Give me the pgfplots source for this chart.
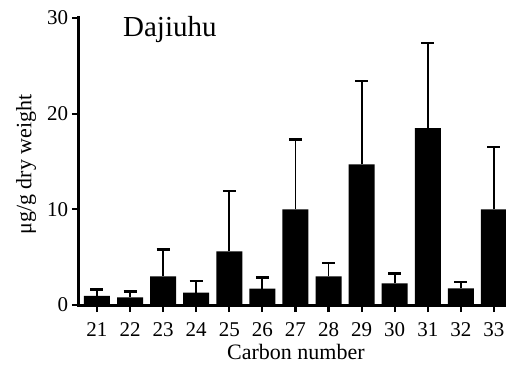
\documentclass[border=0pt]{standalone}
\usepackage{fontspec}
\setmainfont{Liberation Serif}
\usepackage{pgfplots}
\usepackage{pgfplotstable}
\pgfplotsset{compat=1.18}
\pgfplotstableread{
x y err
21 0.95 0.65
22 0.80 0.60
23 3.00 2.80
24 1.30 1.20
25 5.60 6.30
26 1.70 1.20
27 10.0 7.30
28 3.00 1.40
29 14.7 8.70
30 2.25 1.05
31 18.5 8.90
32 1.75 0.65
33 10.0 6.50
}\datatable
\begin{document}
\begin{tikzpicture}
\begin{axis}[
  name=ax,
  at={(0,0)}, anchor=south west,
  scale only axis,
  width=427pt, height=287pt,
  xmin=20.456, xmax=33.365,
  ymin=0, ymax=30,
  axis x line*=bottom, axis y line*=left,
  every outer x axis line/.append style={-, line width=3pt, line cap=rect},
  every outer y axis line/.append style={-, line width=3pt, line cap=rect},
  xtick={21,...,33},
  ytick={0,10,20,30},
  minor tick num=0,
  tick align=outside,
  major tick length=7pt,
  every tick/.append style={line width=2.2pt, black},
  major tick style={line width=2.2pt, black},
  /pgf/number format/assume math mode=true,
  tick label style={font=\fontsize{21}{25}\selectfont},
  yticklabel style={inner sep=0pt, anchor=east, xshift=-3.7pt},
  xticklabel style={inner sep=0pt, anchor=base, yshift=-24pt},
  xlabel={Carbon number},
  ylabel={μg/g dry weight},
  label style={font=\fontsize{22}{26}\selectfont},
  xlabel style={at={(axis description cs:0.508,-0.1916)}, anchor=base},
  ylabel style={at={(axis description cs:-0.124,0.49)}, anchor=center},
  clip=false,
]
\addplot[ybar, bar width=26pt, bar shift=0pt, fill=black, draw=none,
  error bars/.cd, y dir=plus, y explicit, error mark=|,
  error bar style={line width=1.8pt, black},
  error mark options={line width=2.5pt, mark size=6.5pt, black}]
  table[x=x, y=y, y error=err] {\datatable};
\node[anchor=base west, inner sep=0pt, font=\fontsize{29}{34}\selectfont]
  at (axis description cs:0.103,0.937) {Dajiuhu};
\end{axis}
\pgfresetboundingbox
\useasboundingbox ([shift={(-79pt,-62pt)}]ax.south west) rectangle ([shift={(0pt,18pt)}]ax.north east);
\end{tikzpicture}
\end{document}
